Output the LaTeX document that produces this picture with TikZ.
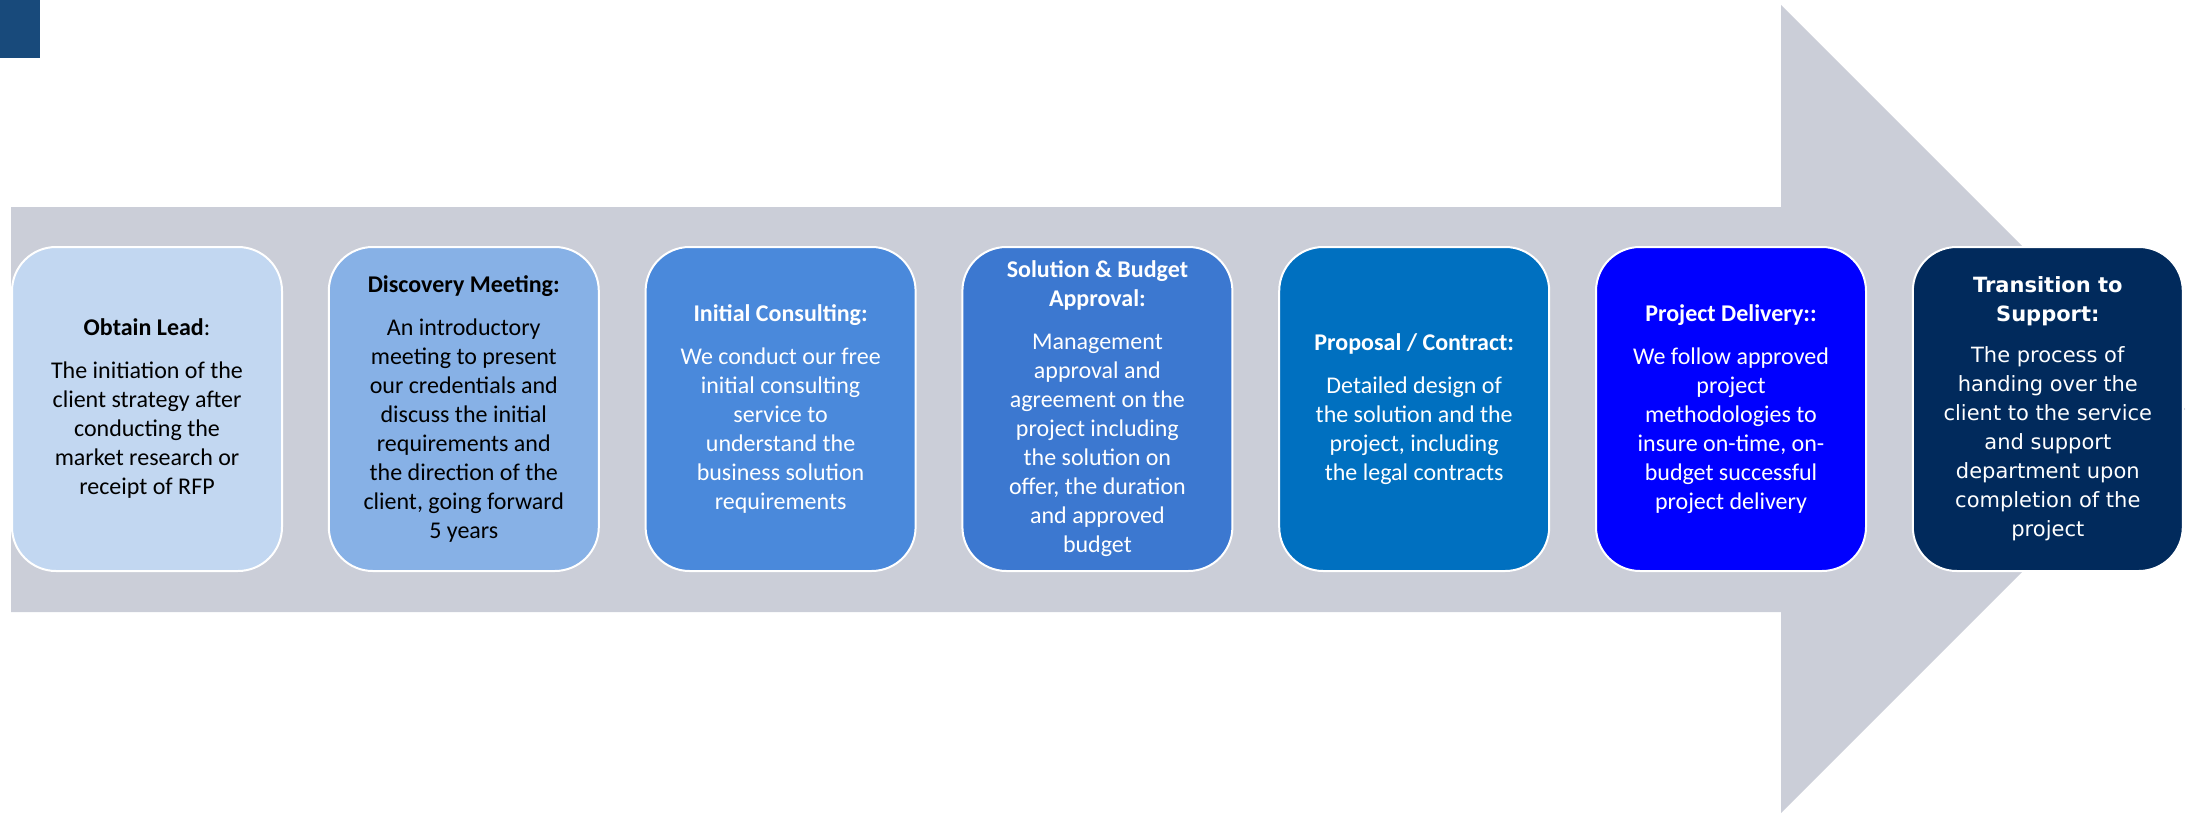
\documentclass[tikz,border=0pt]{standalone}
\usepackage{fontspec}
\setmainfont{Carlito}
\newfontfamily\widefont{DejaVu Sans}
\usetikzlibrary{positioning}

\definecolor{bandgray}{HTML}{CBCED8}
\definecolor{cornerblue}{HTML}{184A7B}
\definecolor{leadblue}{HTML}{C2D7F1}
\definecolor{meetblue}{HTML}{87B1E6}
\definecolor{consultblue}{HTML}{4A89DB}
\definecolor{approveblue}{HTML}{3C78D0}
\definecolor{contractblue}{HTML}{0070C0}
\definecolor{deliverblue}{HTML}{0000FF}
\definecolor{supportblue}{HTML}{012A5C}

\begin{document}
\begin{tikzpicture}[x=0.5pt, y=-0.5pt,
  stage/.style={rounded corners=22pt, draw=white, line width=1pt,
    minimum width=135pt, minimum height=162pt, inner sep=0pt, outer sep=0pt,
    align=center, font=\fontsize{12}{14.5}\selectfont},
  darkstage/.style={stage, text=white}]

  \useasboundingbox (0,0) rectangle (2201,813);

  % corner mark and the big arrow behind the stages
  \fill[cornerblue] (0,0) rectangle (40,58);
  \fill[bandgray] (11,207) -- (1781,207) -- (1781,5) -- (2185,409)
    -- (1781,813) -- (1781,612) -- (11,612) -- cycle;

  % stages
  \node[stage, fill=leadblue, anchor=north west] (lead) at (12,247)
    {\textbf{Obtain Lead}:\\[7pt]
     The initiation of the\\ client strategy after\\ conducting the\\
     market research or\\ receipt of RFP};
  \node[stage, fill=meetblue, right=23.4pt of lead] (meeting)
    {\textbf{Discovery Meeting:}\\[7pt]
     An introductory\\ meeting to present\\ our credentials and\\
     discuss the initial\\ requirements and\\ the direction of the\\
     client, going forward\\ 5 years};
  \node[darkstage, fill=consultblue, right=23.4pt of meeting] (consult)
    {\textbf{Initial Consulting:}\\[7pt]
     We conduct our free\\ initial consulting\\ service to\\
     understand the\\ business solution\\ requirements};
  \node[darkstage, fill=approveblue, right=23.4pt of consult] (approval)
    {\textbf{Solution \& Budget}\\ \textbf{Approval:}\\[7pt]
     Management\\ approval and\\ agreement on the\\ project including\\
     the solution on\\ offer, the duration\\ and approved\\ budget};
  \node[darkstage, fill=contractblue, right=23.4pt of approval] (contract)
    {\textbf{Proposal / Contract:}\\[7pt]
     Detailed design of\\ the solution and the\\ project, including\\
     the legal contracts};
  \node[darkstage, fill=deliverblue, right=23.4pt of contract] (delivery)
    {\textbf{Project Delivery::}\\[7pt]
     We follow approved\\ project\\ methodologies to\\
     insure on-time, on-\\ budget successful\\ project delivery};
  \node[darkstage, fill=supportblue, right=23.4pt of delivery,
    font=\widefont\fontsize{10.5}{14.5}\selectfont] (support)
    {\textbf{Transition to}\\ \textbf{Support:}\\[6pt]
     The process of\\ handing over the\\ client to the service\\
     and support\\ department upon\\ completion of the\\ project};
\end{tikzpicture}
\end{document}
